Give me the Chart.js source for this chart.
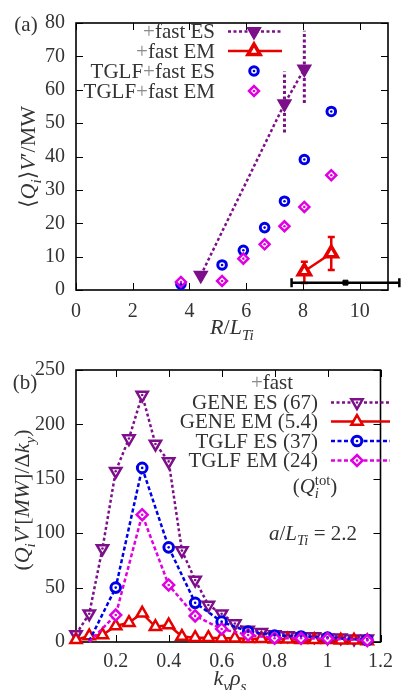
<!DOCTYPE html>
<html>
<head>
<meta charset="utf-8">
<script src="https://cdn.jsdelivr.net/npm/chart.js@4.4.0/dist/chart.umd.min.js"></script>
<style>
html, body { margin: 0; padding: 0; background: #fff; }
canvas { display: block; }
</style>
</head>
<body>
<canvas id="scanChart" width="401" height="345"></canvas>
<canvas id="specChart" width="401" height="345"></canvas>
<script>
// (a) ion heat flux vs R/L_Ti
const rltGene = [4.4, 7.35, 8.05];
const qGeneES = [4.4, 55.8, 66.2];
const qGeneESlo = [null, 47.2, 56.0];
const qGeneEShi = [null, 65.5, 77.7];

const rltGeneEM = [8.05, 9.0];
const qGeneEM = [5.6, 11.0];
const qGeneEMlo = [2.1, 6.0];
const qGeneEMhi = [8.5, 15.9];

const rltTglf = [3.7, 5.15, 5.9, 6.65, 7.35, 8.05, 9.0];
const qTglfES = [1.75, 7.5, 11.9, 18.7, 26.6, 39.1, 53.5];
const qTglfEM = [2.4, 2.7, 9.4, 13.7, 19.1, 24.9, 34.4];

const rltExp = [9.5];
const rltExpLo = [7.6];
const rltExpHi = [11.4];
const qExp = [2.2];

const rltTicks = [0, 2, 4, 6, 8, 10];
const qTicks = [0, 10, 20, 30, 40, 50, 60, 70, 80];

// (b) flux spectra
const kyGene = [0.05, 0.1, 0.15, 0.2, 0.25, 0.3, 0.35, 0.4, 0.45, 0.5, 0.55, 0.6,
                0.65, 0.7, 0.75, 0.8, 0.85, 0.9, 0.95, 1.0, 1.05, 1.1, 1.15];
const specGeneES = [7, 26, 86, 157, 187, 227, 182, 166, 84, 57, 34, 26,
                    17, 11, 9, 7, 6, 5, 5, 4, 4, 3, 3];
const specGeneEM = [2, 5.5, 6.4, 14.7, 17.8, 26.4, 14, 15.6, 5, 4, 4, 3.5,
                    3.5, 3, 3, 2.5, 2.5, 2, 2, 2, 1.5, 1.5, 1];
const kyTglf = [0.1, 0.2, 0.3, 0.4, 0.5, 0.6, 0.7, 0.8, 0.9, 1.0, 1.15];
const specTglfES = [1, 50, 160, 87, 36, 18.7, 9.5, 6, 5, 4, 1.8];
const specTglfEM = [0, 24.8, 117, 52.4, 24, 12, 6.4, 3.5, 3.4, 3.2, 1.5];

const kyTicks = [0.2, 0.4, 0.6, 0.8, 1, 1.2];
const specTicks = [0, 50, 100, 150, 200, 250];

const PURPLE = '#7d0f8a';
const RED = '#e60000';
const BLUE = '#0000e6';
const MAGENTA = '#e000e0';
const TEXT = '#333';
const PLUS = '#8a8a8a';
const FAMILY = 'Liberation Serif, DejaVu Serif, serif';

Chart.defaults.font.family = FAMILY;
Chart.defaults.color = TEXT;

const pts = (xs, ys) => xs.map((x, i) => ({ x: x, y: ys[i] }));

// ---- rich text: [text, style, color]; style 'r'/'i', plus '_' (sub) or '^' (sup),
// '0' = do not advance (for stacked sub/sup)
function partFont(style, size) {
    const small = style.includes('_') || style.includes('^');
    return (style.includes('i') ? 'italic ' : '') + (small ? size * 0.7 : size) + 'px ' + FAMILY;
}

function drawRich(ctx, parts, x, y, size, align) {
    ctx.save();
    ctx.textBaseline = 'alphabetic';
    ctx.textAlign = 'left';
    let w = 0;
    parts.forEach(p => {
        ctx.font = partFont(p[1], size);
        if (!p[1].includes('0')) w += ctx.measureText(p[0]).width;
    });
    let cx = align === 'right' ? x - w : align === 'center' ? x - w / 2 : x;
    const base = y + size * 0.33;
    parts.forEach(p => {
        ctx.font = partFont(p[1], size);
        ctx.fillStyle = p[2] || TEXT;
        let dy = 0;
        if (p[1].includes('_')) dy = size * 0.25;
        if (p[1].includes('^')) dy = -size * 0.4;
        ctx.fillText(p[0], cx, base + dy);
        if (!p[1].includes('0')) cx += ctx.measureText(p[0]).width;
    });
    ctx.restore();
}

function drawRichUp(ctx, parts, x, y, size) {
    ctx.save();
    ctx.translate(x, y);
    ctx.rotate(-Math.PI / 2);
    drawRich(ctx, parts, 0, 0, size, 'center');
    ctx.restore();
}

// ---- box with inward ticks on all four sides
const framePlugin = {
    id: 'frame',
    beforeDatasetsDraw(chart) {
        const { ctx, chartArea: a, scales: { x, y } } = chart;
        const len = 7;
        ctx.save();
        ctx.strokeStyle = '#000';
        ctx.lineWidth = 1;
        ctx.beginPath();
        x.ticks.forEach(t => {
            const px = Math.round(x.getPixelForValue(t.value)) + 0.5;
            ctx.moveTo(px, a.bottom); ctx.lineTo(px, a.bottom - len);
            ctx.moveTo(px, a.top); ctx.lineTo(px, a.top + len);
        });
        y.ticks.forEach(t => {
            const py = Math.round(y.getPixelForValue(t.value)) + 0.5;
            ctx.moveTo(a.left, py); ctx.lineTo(a.left + len, py);
            ctx.moveTo(a.right, py); ctx.lineTo(a.right - len, py);
        });
        ctx.stroke();
        ctx.lineWidth = 1.6;
        ctx.strokeRect(a.left, a.top, a.right - a.left, a.bottom - a.top);
        ctx.restore();
    }
};

// ---- error bars read from errLo/errHi (y) and errXLo/errXHi (x)
const errorBarPlugin = {
    id: 'errorBars',
    beforeDatasetsDraw(chart) {
        const { ctx, scales: { x, y } } = chart;
        chart.data.datasets.forEach((ds, i) => {
            if (!ds.errLo && !ds.errXLo) return;
            const meta = chart.getDatasetMeta(i);
            ctx.save();
            ctx.strokeStyle = ds.errColor || ds.borderColor;
            ctx.lineWidth = ds.errWidth || 2;
            ctx.setLineDash(ds.errDash || []);
            const cap = ds.errCap || 0;
            meta.data.forEach((p, j) => {
                ctx.beginPath();
                if (ds.errLo && ds.errLo[j] != null) {
                    const y0 = y.getPixelForValue(ds.errLo[j]);
                    const y1 = y.getPixelForValue(ds.errHi[j]);
                    ctx.moveTo(p.x, y0); ctx.lineTo(p.x, y1);
                    if (cap) {
                        ctx.moveTo(p.x - cap, y0); ctx.lineTo(p.x + cap, y0);
                        ctx.moveTo(p.x - cap, y1); ctx.lineTo(p.x + cap, y1);
                    }
                }
                if (ds.errXLo && ds.errXLo[j] != null) {
                    const x0 = x.getPixelForValue(ds.errXLo[j]);
                    const x1 = x.getPixelForValue(ds.errXHi[j]);
                    ctx.moveTo(x0, p.y); ctx.lineTo(x1, p.y);
                    if (cap) {
                        ctx.moveTo(x0, p.y - cap); ctx.lineTo(x0, p.y + cap);
                        ctx.moveTo(x1, p.y - cap); ctx.lineTo(x1, p.y + cap);
                    }
                }
                ctx.stroke();
            });
            ctx.restore();
        });
    }
};

// ---- small dot in the middle of hollow markers
const dotPlugin = {
    id: 'centerDots',
    afterDatasetsDraw(chart) {
        const ctx = chart.ctx;
        chart.data.datasets.forEach((ds, i) => {
            if (!ds.centerDot) return;
            ctx.save();
            ctx.fillStyle = ds.borderColor;
            chart.getDatasetMeta(i).data.forEach(p => {
                if (p.options.radius <= 0) return;
                ctx.beginPath();
                ctx.arc(p.x, p.y, 1.3, 0, Math.PI * 2);
                ctx.fill();
            });
            ctx.restore();
        });
    }
};

// ---- key drawn by hand: right-aligned labels, sample line + marker to the right
function drawKey(chart, entries, o) {
    const ctx = chart.ctx;
    entries.forEach((e, k) => {
        const ds = chart.data.datasets[e.index];
        const yy = o.rows[k];
        drawRich(ctx, e.label, o.textRight, yy, o.size, 'right');
        ctx.save();
        if (ds.showLine) {
            ctx.strokeStyle = ds.borderColor;
            ctx.lineWidth = ds.borderWidth;
            ctx.setLineDash(ds.borderDash || []);
            ctx.beginPath();
            ctx.moveTo(o.lineFrom, yy);
            ctx.lineTo(o.lineTo, yy);
            ctx.stroke();
            ctx.setLineDash([]);
        }
        ctx.fillStyle = ds.pointBackgroundColor;
        ctx.strokeStyle = ds.borderColor;
        ctx.lineWidth = ds.pointBorderWidth;
        Chart.helpers.drawPoint(ctx, {
            pointStyle: ds.pointStyle,
            rotation: ds.pointRotation || 0,
            radius: ds.keyRadius || ds.pointRadius,
            borderWidth: ds.pointBorderWidth
        }, o.marker, yy);
        if (ds.centerDot) {
            ctx.fillStyle = ds.borderColor;
            ctx.beginPath();
            ctx.arc(o.marker, yy, 1.3, 0, Math.PI * 2);
            ctx.fill();
        }
        ctx.restore();
    });
}

const tickFont = { family: FAMILY, size: 20 };

function axes(xMin, xMax, xTicks, yMin, yMax, yTicks, yWidth, xHeight, xPad) {
    return {
        x: {
            type: 'linear', min: xMin, max: xMax,
            grid: { display: false, drawTicks: false },
            border: { display: false },
            ticks: { font: tickFont, color: TEXT, padding: xPad, callback: v => String(v) },
            afterBuildTicks: s => { s.ticks = xTicks.map(v => ({ value: v })); },
            afterFit: s => { s.height = xHeight; }
        },
        y: {
            type: 'linear', min: yMin, max: yMax,
            grid: { display: false, drawTicks: false },
            border: { display: false },
            ticks: { font: tickFont, color: TEXT, padding: 11 },
            afterBuildTicks: s => { s.ticks = yTicks.map(v => ({ value: v })); },
            afterFit: s => { s.width = yWidth; }
        }
    };
}

// ================= (a) =================
const scanKey = {
    id: 'scanKey',
    afterDatasetsDraw(chart) {
        const ctx = chart.ctx;
        drawKey(chart, [
            { index: 0, label: [['+', 'r', PLUS], ['fast ES', 'r']] },
            { index: 1, label: [['+', 'r', PLUS], ['fast EM', 'r']] },
            { index: 2, label: [['TGLF', 'r'], ['+', 'r', PLUS], ['fast ES', 'r']] },
            { index: 3, label: [['TGLF', 'r'], ['+', 'r', PLUS], ['fast EM', 'r']] }
        ], { rows: [31.5, 51, 71, 91], textRight: 215, lineFrom: 228, lineTo: 282, marker: 254, size: 21 });

        drawRich(ctx, [['(a)', 'r']], 26, 24, 21, 'center');
        drawRich(ctx, [['R', 'i'], ['/', 'r'], ['L', 'i'], ['Ti', 'i_']], 232, 327, 22, 'center');
        drawRichUp(ctx, [['\u27E8', 'r'], ['Q', 'i'], ['i', 'i_'], ['\u27E9', 'r'], ['V', 'i'], ['\u2032', 'r'], ['/MW', 'r']], 28, 157, 22);
    }
};

new Chart(document.getElementById('scanChart'), {
    type: 'scatter',
    data: {
        datasets: [
            {
                data: pts(rltGene, qGeneES), showLine: true,
                borderColor: PURPLE, borderWidth: 2.5, borderDash: [3, 2.5],
                pointStyle: 'triangle', pointRotation: 180, pointRadius: 7.5,
                pointBackgroundColor: PURPLE, pointBorderWidth: 1.5,
                errLo: qGeneESlo, errHi: qGeneEShi, errWidth: 3, errDash: [3, 2.5],
                order: 2
            },
            {
                data: pts(rltGeneEM, qGeneEM), showLine: true,
                borderColor: RED, borderWidth: 2.5,
                pointStyle: 'triangle', pointRadius: 7, pointBackgroundColor: '#fff', pointBorderWidth: 3.5,
                errLo: qGeneEMlo, errHi: qGeneEMhi, errWidth: 2.5, errCap: 3.5,
                order: 1
            },
            {
                data: pts(rltTglf, qTglfES), showLine: false,
                borderColor: BLUE, pointStyle: 'circle', pointRadius: 4.3,
                pointBackgroundColor: '#fff', pointBorderWidth: 3, centerDot: true,
                order: 4
            },
            {
                data: pts(rltTglf, qTglfEM), showLine: false,
                borderColor: MAGENTA, pointStyle: 'rectRot', pointRadius: 5,
                pointBackgroundColor: '#fff', pointBorderWidth: 2.5, centerDot: true,
                order: 3
            },
            {
                data: pts(rltExp, qExp), showLine: false,
                borderColor: '#000', pointStyle: 'rect', pointRadius: 3.5,
                pointBackgroundColor: '#000', pointBorderWidth: 1,
                errXLo: rltExpLo, errXHi: rltExpHi, errWidth: 2.5, errCap: 4.5,
                order: 0
            }
        ]
    },
    options: {
        responsive: false,
        animation: false,
        clip: false,
        layout: { padding: { top: 16, right: 13, left: 0, bottom: 0 } },
        plugins: { legend: { display: false }, tooltip: { enabled: false } },
        scales: axes(0, 11, rltTicks, 0, 80, qTicks, 76, 55, 10)
    },
    plugins: [framePlugin, errorBarPlugin, dotPlugin, scanKey]
});

// ================= (b) =================
const specKey = {
    id: 'specKey',
    afterDraw(chart) {
        const ctx = chart.ctx;
        drawRich(ctx, [['+', 'r', PLUS], ['fast', 'r']], 272, 37.5, 21, 'center');
        drawKey(chart, [
            { index: 0, label: [['GENE ES (67)', 'r']] },
            { index: 1, label: [['GENE EM (5.4)', 'r']] },
            { index: 2, label: [['TGLF ES (37)', 'r']] },
            { index: 3, label: [['TGLF EM (24)', 'r']] }
        ], { rows: [57.5, 76.5, 96, 115.5], textRight: 318, lineFrom: 331, lineTo: 390, marker: 357, size: 21 });
        drawRich(ctx, [['(', 'r'], ['Q', 'i'], ['i', 'i_0'], ['tot', 'r^'], [')', 'r']], 315, 141, 21, 'center');
        drawRich(ctx, [['a', 'i'], ['/', 'r'], ['L', 'i'], ['Ti', 'i_'], [' = 2.2', 'r']], 313, 188, 21, 'center');

        drawRich(ctx, [['(b)', 'r']], 25, 37, 21, 'center');
        drawRich(ctx, [['k', 'i'], ['y', 'i_'], ['\u03C1', 'i'], ['s', 'i_']], 230, 333, 22, 'center');
        drawRichUp(ctx, [['(', 'r'], ['Q', 'i'], ['i', 'i_'], ['V', 'i'], ['\u2032', 'r'], ['[', 'r'], ['MW', 'i'], [']/\u0394', 'r'], ['k', 'i'], ['y', 'i_'], [')', 'r']], 22, 155, 22);
    }
};

new Chart(document.getElementById('specChart'), {
    type: 'scatter',
    data: {
        datasets: [
            {
                data: pts(kyGene, specGeneES), showLine: true,
                borderColor: PURPLE, borderWidth: 2.5, borderDash: [3, 2.5],
                pointStyle: 'triangle', pointRotation: 180, pointRadius: 6.5,
                pointBackgroundColor: '#fff', pointBorderWidth: 2.5, centerDot: true,
                order: 4
            },
            {
                data: pts(kyGene, specGeneEM), showLine: true,
                borderColor: RED, borderWidth: 2.5,
                pointStyle: 'triangle', pointRadius: 6.5,
                pointBackgroundColor: '#fff', pointBorderWidth: 2.5,
                order: 3
            },
            {
                data: pts(kyTglf, specTglfES), showLine: true,
                borderColor: BLUE, borderWidth: 2.5, borderDash: [4, 2.5],
                pointStyle: 'circle', keyRadius: 4.8,
                pointRadius: ctx => (ctx.parsed && ctx.parsed.x < 0.15 ? 0 : 4.8),
                pointBackgroundColor: '#fff', pointBorderWidth: 3, centerDot: true,
                order: 2
            },
            {
                data: pts(kyTglf, specTglfEM), showLine: true,
                borderColor: MAGENTA, borderWidth: 2.5, borderDash: [4, 2.5],
                pointStyle: 'rectRot', keyRadius: 5.5,
                pointRadius: ctx => (ctx.parsed && ctx.parsed.x < 0.15 ? 0 : 5.5),
                pointBackgroundColor: '#fff', pointBorderWidth: 2.5, centerDot: true,
                order: 1
            }
        ]
    },
    options: {
        responsive: false,
        animation: false,
        clip: false,
        layout: { padding: { top: 25, right: 13, left: 0, bottom: 0 } },
        plugins: { legend: { display: false }, tooltip: { enabled: false } },
        scales: axes(0.05, 1.2, kyTicks, 0, 250, specTicks, 76, 48, 8)
    },
    plugins: [framePlugin, dotPlugin, specKey]
});
</script>
</body>
</html>
